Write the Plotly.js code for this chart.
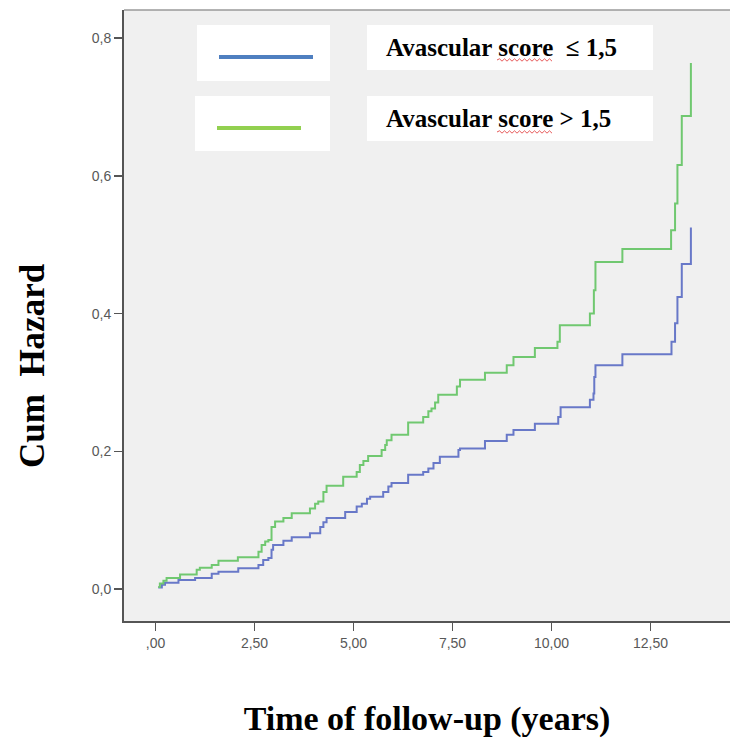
<!DOCTYPE html>
<html><head><meta charset="utf-8">
<script src="https://cdn.plot.ly/plotly-3.0.1.min.js"></script>
<style>html,body{margin:0;padding:0;background:#fff;}#chart{width:730px;height:744px;}</style>
</head><body><div id="chart"></div>
<script>
// Cumulative hazard, Avascular score <= 1,5 (blue)
const timeLow = [0.07,0.16,0.24,0.58,1.00,1.42,1.59,2.09,2.60,2.72,2.85,2.93,2.97,3.23,3.44,3.90,4.16,4.24,4.32,4.79,5.08,5.21,5.34,5.42,5.75,5.88,5.96,6.38,6.76,6.89,7.02,7.18,7.65,7.69,8.32,8.87,9.04,9.58,10.17,10.23,10.97,11.06,11.08,11.11,11.79,13.03,13.12,13.18,13.29,13.52];
const hazardLow = [0.002,0.006,0.009,0.013,0.016,0.022,0.025,0.030,0.035,0.042,0.045,0.057,0.064,0.070,0.075,0.081,0.090,0.097,0.103,0.112,0.120,0.124,0.131,0.134,0.141,0.149,0.154,0.166,0.170,0.175,0.183,0.192,0.202,0.204,0.215,0.224,0.231,0.240,0.250,0.264,0.275,0.284,0.308,0.325,0.341,0.359,0.386,0.424,0.472,0.525];
// Cumulative hazard, Avascular score > 1,5 (green)
const timeHigh = [0.07,0.11,0.20,0.28,0.62,1.04,1.12,1.42,1.59,2.08,2.60,2.68,2.77,2.85,2.93,3.02,3.23,3.44,3.90,4.03,4.11,4.24,4.32,4.74,5.08,5.16,5.25,5.37,5.71,5.80,5.84,5.96,6.38,6.76,6.89,6.97,7.06,7.14,7.61,7.69,8.32,8.87,9.04,9.58,10.15,10.21,10.97,11.07,11.11,11.79,13.02,13.12,13.18,13.29,13.52];
const hazardHigh = [0.003,0.008,0.012,0.016,0.021,0.028,0.031,0.035,0.041,0.046,0.054,0.064,0.069,0.071,0.090,0.098,0.103,0.110,0.117,0.124,0.127,0.141,0.150,0.163,0.170,0.180,0.186,0.193,0.202,0.209,0.216,0.224,0.242,0.250,0.258,0.262,0.271,0.282,0.294,0.304,0.314,0.325,0.337,0.350,0.359,0.383,0.400,0.434,0.475,0.494,0.521,0.560,0.616,0.687,0.764];

const seriesNames = ["Avascular score\u00a0\u00a0≤ 1,5", "Avascular score > 1,5"];
const xTickVals = [0, 2.5, 5, 7.5, 10, 12.5];
const xTickText = [",00", "2,50", "5,00", "7,50", "10,00", "12,50"];
const yTickVals = [0, 0.2, 0.4, 0.6, 0.8];
const yTickText = ["0,0", "0,2", "0,4", "0,6", "0,8"];
const xAxisTitle = "Time of follow-up (years)";
const yAxisTitle = "Cum\u00a0\u00a0Hazard";

const W = 730, H = 744;
const M = {l: 124, r: 0, t: 10, b: 123};
const PW = W - M.l - M.r, PH = H - M.t - M.b;
const px = v => (v - M.l) / PW;
const py = v => (H - M.b - v) / PH;

const curveBlue = "#6878c8", curveGreen = "#70c870";
const legBlue = "#4f7fc0", legGreen = "#92d050";
const serif = "Liberation Serif, Times New Roman, serif";

const traces = [
  {x: timeLow, y: hazardLow, type: "scatter", mode: "lines", line: {shape: "hv", color: curveBlue, width: 2}, name: seriesNames[0], hoverinfo: "skip"},
  {x: timeHigh, y: hazardHigh, type: "scatter", mode: "lines", line: {shape: "hv", color: curveGreen, width: 2}, name: seriesNames[1], hoverinfo: "skip"}
];

function squiggle(x0, x1, y) {
  let d = "M" + px(x0) + "," + py(y);
  let up = true;
  for (let x = x0 + 2.5; x <= x1; x += 2.5) {
    d += " L" + px(x) + "," + py(y + (up ? -1.2 : 1.2));
    up = !up;
  }
  return d;
}

const shapes = [
  {type: "line", xref: "paper", yref: "paper", x0: px(124), x1: px(730), y0: py(10), y1: py(10), line: {color: "#9a9a9a", width: 1.5}},
  {type: "rect", xref: "paper", yref: "paper", x0: px(197), x1: px(330), y0: py(81), y1: py(25), fillcolor: "#ffffff", line: {width: 0}},
  {type: "rect", xref: "paper", yref: "paper", x0: px(367), x1: px(653), y0: py(70), y1: py(25), fillcolor: "#ffffff", line: {width: 0}},
  {type: "rect", xref: "paper", yref: "paper", x0: px(195), x1: px(330), y0: py(151), y1: py(96), fillcolor: "#ffffff", line: {width: 0}},
  {type: "rect", xref: "paper", yref: "paper", x0: px(367), x1: px(653), y0: py(141), y1: py(96), fillcolor: "#ffffff", line: {width: 0}},
  {type: "line", xref: "paper", yref: "paper", x0: px(219), x1: px(313), y0: py(57), y1: py(57), line: {color: legBlue, width: 4}},
  {type: "line", xref: "paper", yref: "paper", x0: px(217), x1: px(301), y0: py(128), y1: py(128), line: {color: legGreen, width: 4}},
  {type: "path", xref: "paper", yref: "paper", path: squiggle(497, 553, 60), line: {color: "#e03030", width: 0.8}},
  {type: "path", xref: "paper", yref: "paper", path: squiggle(497, 553, 132), line: {color: "#e03030", width: 0.8}}
];

const annotations = [
  {xref: "paper", yref: "paper", x: px(384), y: py(47), xanchor: "left", yanchor: "middle", showarrow: false, text: "<b>" + seriesNames[0] + "</b>", font: {family: serif, size: 25, color: "#000"}},
  {xref: "paper", yref: "paper", x: px(384), y: py(119), xanchor: "left", yanchor: "middle", showarrow: false, text: "<b>" + seriesNames[1] + "</b>", font: {family: serif, size: 25, color: "#000"}},
  {xref: "paper", yref: "paper", x: px(32), y: py(366), xanchor: "center", yanchor: "middle", textangle: -90, showarrow: false, text: "<b>" + yAxisTitle + "</b>", font: {family: serif, size: 35, color: "#000"}}
];

const layout = {
  width: W, height: H,
  margin: M,
  paper_bgcolor: "#ffffff",
  plot_bgcolor: "#f0f0f0",
  showlegend: false,
  font: {family: "Liberation Sans, Arial, sans-serif"},
  xaxis: {
    range: [(124 - 155.5) / 39.6, (730 - 155.5) / 39.6],
    tickvals: xTickVals, ticktext: xTickText,
    ticks: "outside", ticklen: 8, tickwidth: 1.5, tickcolor: "#555",
    showline: true, linecolor: "#555", linewidth: 2,
    showgrid: false, zeroline: false,
    tickfont: {size: 14, color: "#585858", family: "Liberation Sans, Arial, sans-serif"},
    title: {text: "<b>" + xAxisTitle + "</b>", standoff: 56, font: {family: serif, size: 34, color: "#000"}}
  },
  yaxis: {
    range: [(589 - 621) / 688.5, (589 - 10) / 688.5],
    tickvals: yTickVals, ticktext: yTickText,
    ticks: "outside", ticklen: 8, tickwidth: 1.5, tickcolor: "#555",
    showline: true, linecolor: "#555", linewidth: 2,
    showgrid: false, zeroline: false,
    tickfont: {size: 14, color: "#585858", family: "Liberation Sans, Arial, sans-serif"}
  },
  shapes: shapes,
  annotations: annotations
};

Plotly.newPlot("chart", traces, layout, {staticPlot: true, displayModeBar: false});
</script>
</body></html>
